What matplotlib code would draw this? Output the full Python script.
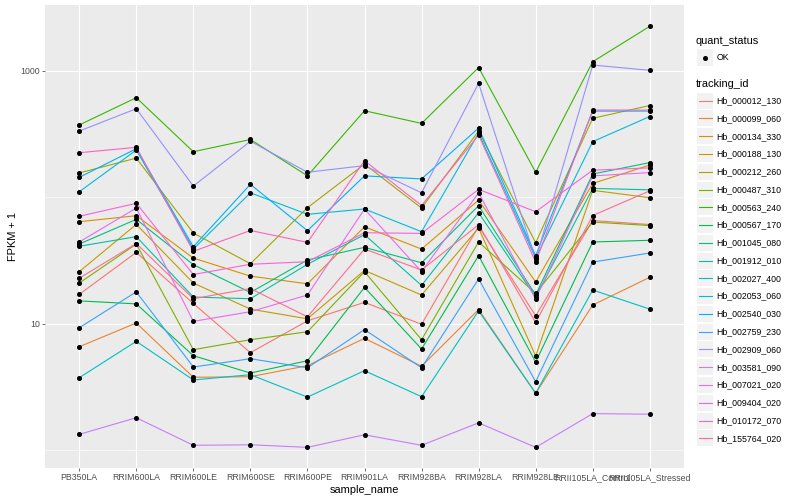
import numpy as np
import matplotlib
matplotlib.use('Agg')
import matplotlib.pyplot as plt
from matplotlib.ticker import FixedLocator, NullFormatter, NullLocator
from matplotlib.lines import Line2D
from matplotlib.patches import Rectangle

plt.rcParams['font.family'] = ['Liberation Sans', 'DejaVu Sans']

samples = ['PB350LA', 'RRIM600LA', 'RRIM600LE', 'RRIM600SE', 'RRIM600PE', 'RRIM901LA',
           'RRIM928BA', 'RRIM928LA', 'RRIM928LE', 'RRII105LA_Control', 'RRII105LA_Stressed']

tracking_ids = ['Hb_000012_130', 'Hb_000099_060', 'Hb_000134_330', 'Hb_000188_130',
                'Hb_000212_260', 'Hb_000487_310', 'Hb_000563_240', 'Hb_000567_170',
                'Hb_001045_080', 'Hb_001912_010', 'Hb_002027_400', 'Hb_002053_060',
                'Hb_002540_030', 'Hb_002759_230', 'Hb_002909_060', 'Hb_003581_090',
                'Hb_007021_020', 'Hb_009404_020', 'Hb_010172_070', 'Hb_155764_020']

# ggplot hue palette, 20 levels
colors = ['#F8766D', '#EA8331', '#D89000', '#C09B00', '#A3A500', '#7CAE00', '#39B600',
          '#00BB4E', '#00BF7D', '#00C1A3', '#00BFC4', '#00BAE0', '#00B0F6', '#35A2FF',
          '#9590FF', '#C77CFF', '#E76BF3', '#FA62DB', '#FF62BC', '#FF6C91']

# FPKM + 1 per sample, in the order of `samples`
hb_000012_130 = [17.0, 36.5, 14.4, 5.88, 10.5, 14.7, 9.86, 58.7, 11.5, 65.2, 60.6]
hb_000099_060 = [6.55, 10.1, 3.76, 3.80, 4.64, 7.64, 4.59, 12.9, 2.81, 14.0, 23.2]
hb_000134_330 = [63.8, 71.2, 32.9, 23.7, 20.6, 58.2, 38.8, 94.7, 21.3, 128, 179]
hb_000188_130 = [25.7, 60.8, 20.9, 13.0, 10.9, 26.3, 16.8, 56.9, 5.53, 113, 98.7]
hb_000212_260 = [155, 203, 51.9, 29.7, 82.3, 182, 81.8, 332, 43.5, 419, 529]
hb_000487_310 = [20.9, 42.5, 6.21, 7.45, 8.61, 25.7, 7.45, 44.1, 17.3, 63.4, 59.5]
hb_000563_240 = [371, 610, 228, 285, 147, 481, 382, 1056, 157, 1174, 2236]
hb_000567_170 = [15.1, 14.3, 5.57, 4.06, 5.08, 19.3, 6.29, 34.4, 4.96, 44.1, 45.5]
hb_001045_080 = [42.5, 66.6, 29.2, 17.6, 31.8, 40.0, 30.2, 85.4, 16.8, 152, 187]
hb_001912_010 = [40.8, 48.6, 16.2, 15.7, 29.4, 50.4, 20.0, 75.1, 16.2, 117, 114]
hb_002027_400 = [3.73, 7.23, 3.58, 3.94, 2.62, 4.24, 2.64, 12.6, 2.81, 18.4, 13.0]
hb_002053_060 = [110, 235, 38.8, 108, 73.0, 80.4, 53.2, 320, 32.8, 274, 433]
hb_002540_030 = [143, 241, 40.5, 126, 54.2, 147, 139, 351, 34.4, 478, 478]
hb_002759_230 = [9.26, 17.8, 4.53, 5.27, 4.47, 8.96, 4.47, 22.5, 3.47, 30.6, 36.1]
hb_002909_060 = [332, 499, 122, 276, 157, 177, 108, 792, 32.2, 1105, 1004]
hb_003581_090 = [1.33, 1.80, 1.09, 1.10, 1.05, 1.32, 1.09, 1.64, 1.05, 1.94, 1.92]
hb_007021_020 = [44.1, 81.8, 10.4, 12.4, 16.8, 80.4, 25.7, 108, 15.6, 147, 156]
hb_009404_020 = [70.4, 89.2, 24.4, 29.4, 30.8, 52.2, 51.6, 115, 76.5, 163, 170]
hb_010172_070 = [224, 247, 37.2, 54.4, 43.8, 194, 85.7, 309, 30.6, 487, 487]
hb_155764_020 = [22.8, 42.9, 15.7, 18.9, 11.3, 38.8, 26.5, 60.4, 10.2, 71.4, 112]

series = [hb_000012_130, hb_000099_060, hb_000134_330, hb_000188_130, hb_000212_260,
          hb_000487_310, hb_000563_240, hb_000567_170, hb_001045_080, hb_001912_010,
          hb_002027_400, hb_002053_060, hb_002540_030, hb_002759_230, hb_002909_060,
          hb_003581_090, hb_007021_020, hb_009404_020, hb_010172_070, hb_155764_020]

fig = plt.figure(figsize=(8, 5), dpi=100)
ax = fig.add_axes([45 / 800, 1 - 468 / 500, (684 - 45) / 800, (468 - 5) / 500])
ax.set_facecolor('#EBEBEB')
for s in ax.spines.values():
    s.set_visible(False)

x = np.arange(len(samples))
for vals, c in zip(series, colors):
    ax.plot(x, vals, color=c, lw=0.8, zorder=3)
for vals in series:
    ax.plot(x, vals, 'o', color='black', ms=2.6, zorder=4)

ax.set_yscale('log')
ax.set_ylim(0.721, 3296)
ax.set_xlim(-0.6, len(samples) - 0.4)

ax.yaxis.set_major_locator(FixedLocator([10, 1000]))
ax.yaxis.set_minor_locator(FixedLocator([1, 100]))
ax.yaxis.set_minor_formatter(NullFormatter())
ax.set_yticklabels(['10', '1000'])
ax.set_xticks(x)
ax.set_xticklabels(samples)
ax.xaxis.set_minor_locator(NullLocator())

ax.grid(which='major', color='white', lw=0.8, zorder=1)
ax.grid(which='minor', axis='y', color='white', lw=0.4, zorder=1)
ax.set_axisbelow(True)
ax.tick_params(which='major', length=2.2, width=0.5, color='#333333',
               labelcolor='#4D4D4D', labelsize=6.3, pad=1.5)
ax.tick_params(which='minor', length=0)

ax.set_xlabel('sample_name', fontsize=7.9, labelpad=2)
ax.set_ylabel('FPKM + 1', fontsize=7.9, labelpad=1.5)

# legend drawn ggplot-style on the right
def fx(px):
    return px / 800

def fy(py):
    return 1 - py / 500

fig.text(fx(696), fy(40.7), 'quant_status', fontsize=7.9, va='center', ha='left')
fig.add_artist(Rectangle((fx(697), fy(65.5)), 16 / 800, 16 / 500, transform=fig.transFigure,
                         facecolor='#F2F2F2', edgecolor='none'))
fig.add_artist(Line2D([fx(705)], [fy(57.5)], marker='o', color='black', ms=2.6,
                      transform=fig.transFigure))
fig.text(fx(716.5), fy(57.5), 'OK', fontsize=6.3, va='center', ha='left')

fig.text(fx(696), fy(84.3), 'tracking_id', fontsize=7.9, va='center', ha='left')
step = 17.77
for i, (name, c) in enumerate(zip(tracking_ids, colors)):
    cy = 100.7 + i * step
    fig.add_artist(Rectangle((fx(697), fy(cy + 8)), 16 / 800, 16 / 500,
                             transform=fig.transFigure, facecolor='#F2F2F2', edgecolor='none'))
    fig.add_artist(Line2D([fx(698.5), fx(711.5)], [fy(cy), fy(cy)], color=c, lw=0.8,
                          transform=fig.transFigure))
    fig.text(fx(716.5), fy(cy), name, fontsize=6.3, va='center', ha='left')

fig.savefig('out.png', dpi=100)
